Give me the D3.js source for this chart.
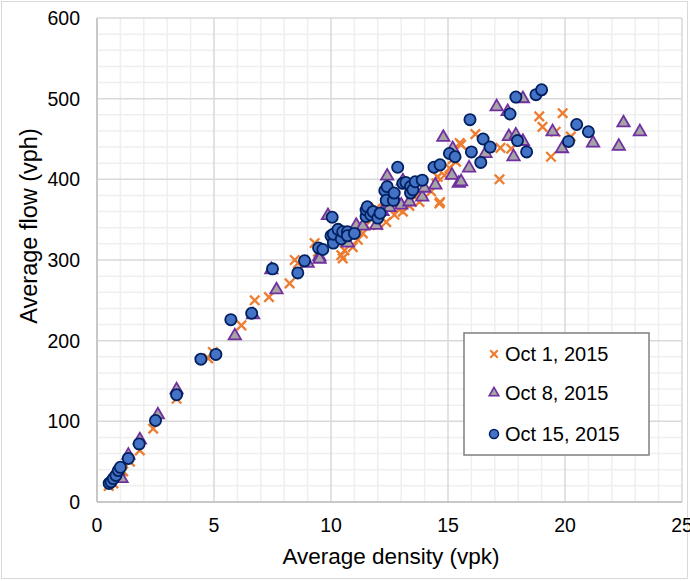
<!DOCTYPE html>
<html>
<head>
<meta charset="utf-8">
<script src="https://d3js.org/d3.v7.min.js"></script>
<style>
  body { margin: 0; background: #fff; }
  text { font-family: "Liberation Sans", Arial, sans-serif; fill: #000; }
</style>
</head>
<body>
<div id="chart"></div>
<script>
// series: [density (vpk), flow (vph)]
const seriesNames = ["Oct 1, 2015", "Oct 8, 2015", "Oct 15, 2015"];

const oct1 = [
  [0.5, 20], [0.7, 23], [1.12, 38], [1.41, 50], [1.83, 64], [2.4, 91], [3.4, 128],
  [4.75, 178], [4.95, 186], [6.17, 219], [6.74, 250], [7.35, 254], [8.23, 271],
  [8.45, 300], [8.59, 296], [9.3, 321], [9.44, 310], [10.44, 306], [10.5, 302],
  [10.58, 312], [10.93, 316], [11.15, 325], [11.36, 333], [11.5, 343], [11.93, 364],
  [12.0, 343], [12.36, 347], [12.71, 356], [12.9, 363], [13.07, 360], [13.35, 367],
  [13.64, 380], [13.78, 372], [14.28, 385], [14.5, 395], [14.56, 403], [14.63, 370],
  [14.66, 372], [14.85, 405], [15.06, 414], [15.2, 425], [15.34, 422], [15.5, 445],
  [15.56, 443], [16.17, 456], [17.2, 400], [17.24, 439], [17.7, 438], [18.9, 478],
  [19.04, 465], [19.4, 428], [19.6, 459], [19.9, 482], [20.25, 453]
];

const oct8 = [
  [0.7, 30], [0.8, 35], [0.9, 38], [1.05, 29], [1.34, 58], [1.83, 77], [2.6, 108],
  [3.4, 139], [5.89, 206], [6.67, 232], [7.45, 288], [7.67, 263], [9.0, 296],
  [9.5, 304], [9.51, 301], [9.87, 355], [10.5, 325], [10.72, 321], [11.08, 343],
  [11.36, 342], [11.93, 343], [12.2, 360], [12.4, 404], [12.5, 365], [12.7, 378],
  [13.0, 368], [13.07, 398], [13.35, 372], [13.9, 378], [13.99, 389], [14.46, 393],
  [14.8, 452], [15.17, 405], [15.2, 438], [15.46, 395], [15.56, 397], [15.9, 414],
  [16.6, 432], [17.08, 490], [17.55, 484], [17.6, 453], [17.8, 428], [17.9, 455],
  [18.2, 500], [18.2, 447], [19.47, 459], [19.87, 438], [21.2, 445], [22.3, 441],
  [22.5, 470], [23.2, 459]
];

const oct15 = [
  [0.52, 23], [0.6, 25], [0.7, 29], [0.81, 33], [0.91, 39], [1.0, 43], [1.34, 54],
  [1.8, 72], [2.5, 101], [3.4, 133], [4.44, 177], [5.08, 183], [5.72, 226],
  [6.61, 234], [7.5, 289], [8.58, 284], [8.87, 299], [9.47, 315], [9.65, 313],
  [10.0, 330], [10.05, 353], [10.1, 321], [10.1, 332], [10.3, 338], [10.44, 326],
  [10.5, 335], [10.7, 335], [10.7, 330], [11.0, 333], [11.5, 354], [11.5, 362],
  [11.55, 366], [11.7, 356], [11.8, 360], [12.0, 352], [12.1, 358], [12.3, 386],
  [12.36, 374], [12.4, 391], [12.67, 374], [12.7, 383], [12.85, 415], [13.07, 395],
  [13.2, 396], [13.4, 391], [13.4, 383], [13.5, 387], [13.6, 397], [13.9, 399],
  [14.4, 415], [14.66, 418], [15.06, 432], [15.3, 428], [15.94, 474], [16.0, 434],
  [16.4, 421], [16.5, 450], [16.8, 440], [17.65, 481], [17.9, 502], [17.97, 448],
  [18.36, 434], [18.76, 505], [19.0, 511], [20.15, 447], [20.5, 468], [21.0, 459]
];

const xTicks = [0, 5, 10, 15, 20, 25];
const yTicks = [0, 100, 200, 300, 400, 500, 600];

const W = 690, H = 581;
const mLeft = 97, mRight = 682, mTop = 18, mBottom = 502;

const svg = d3.select("#chart").append("svg")
  .attr("width", W).attr("height", H);

// outer chart border
svg.append("rect")
  .attr("x", 1.5).attr("y", 1.5).attr("width", W - 4).attr("height", H - 4)
  .attr("fill", "none").attr("stroke", "#d9d9d9");

const x = d3.scaleLinear().domain([0, 25]).range([mLeft, mRight]);
const y = d3.scaleLinear().domain([0, 600]).range([mBottom, mTop]);

// minor grid
svg.append("g").selectAll("line")
  .data(d3.range(0, 26, 1).filter(d => d % 5 !== 0))
  .join("line")
  .attr("x1", d => x(d)).attr("x2", d => x(d))
  .attr("y1", mTop).attr("y2", mBottom)
  .attr("stroke", "#efefef").attr("stroke-width", 1.5);
svg.append("g").selectAll("line")
  .data(d3.range(0, 601, 20).filter(d => d % 100 !== 0))
  .join("line")
  .attr("x1", mLeft).attr("x2", mRight)
  .attr("y1", d => y(d)).attr("y2", d => y(d))
  .attr("stroke", "#efefef").attr("stroke-width", 1.5);

// major grid
svg.append("g").selectAll("line")
  .data(xTicks)
  .join("line")
  .attr("x1", d => x(d)).attr("x2", d => x(d))
  .attr("y1", mTop).attr("y2", mBottom)
  .attr("stroke", "#d9d9d9").attr("stroke-width", 1.5);
svg.append("g").selectAll("line")
  .data(yTicks)
  .join("line")
  .attr("x1", mLeft).attr("x2", mRight)
  .attr("y1", d => y(d)).attr("y2", d => y(d))
  .attr("stroke", "#d9d9d9").attr("stroke-width", 1.5);

// axes lines
svg.append("line").attr("x1", mLeft).attr("x2", mLeft).attr("y1", mTop).attr("y2", mBottom)
  .attr("stroke", "#bfbfbf").attr("stroke-width", 1.5);
svg.append("line").attr("x1", mLeft).attr("x2", mRight).attr("y1", mBottom).attr("y2", mBottom)
  .attr("stroke", "#bfbfbf").attr("stroke-width", 1.5);

// tick labels
svg.append("g").selectAll("text")
  .data(xTicks)
  .join("text")
  .attr("x", d => x(d)).attr("y", mBottom + 30)
  .attr("text-anchor", "middle")
  .attr("font-size", 19.5)
  .text(d => d);
svg.append("g").selectAll("text")
  .data(yTicks)
  .join("text")
  .attr("x", mLeft - 17).attr("y", d => y(d) + 7)
  .attr("text-anchor", "end")
  .attr("font-size", 19.5)
  .text(d => d);

// axis titles
svg.append("text")
  .attr("x", 391).attr("y", 564)
  .attr("text-anchor", "middle").attr("font-size", 22.5)
  .text("Average density (vpk)");
svg.append("text")
  .attr("transform", "translate(37,226) rotate(-90)")
  .attr("text-anchor", "middle").attr("font-size", 23.5)
  .text("Average flow (vph)");

// markers
const xSym = d3.symbol().type(d3.symbolX).size(60);
const triSym = d3.symbol().type(d3.symbolTriangle).size(66);

svg.append("g").selectAll("path")
  .data(oct1)
  .join("path")
  .attr("transform", d => `translate(${x(d[0])},${y(d[1])})`)
  .attr("d", xSym)
  .attr("fill", "none").attr("stroke", "#ED7D31").attr("stroke-width", 2.3);

svg.append("g").selectAll("path")
  .data(oct8)
  .join("path")
  .attr("transform", d => `translate(${x(d[0])},${y(d[1])})`)
  .attr("d", triSym)
  .attr("fill", "#a5a5a5").attr("stroke", "#7030A0").attr("stroke-width", 1.8);

svg.append("g").selectAll("circle")
  .data(oct15)
  .join("circle")
  .attr("cx", d => x(d[0])).attr("cy", d => y(d[1]))
  .attr("r", 5.6)
  .attr("fill", "#4472C4").attr("stroke", "#002060").attr("stroke-width", 1.8);

// legend
const lg = svg.append("g");
lg.append("rect")
  .attr("x", 464).attr("y", 333).attr("width", 185).attr("height", 122)
  .attr("fill", "#fff").attr("stroke", "#7f7f7f").attr("stroke-width", 1.5);
const legY = [354, 393, 434];
seriesNames.forEach((name, i) => {
  const g = lg.append("g").attr("transform", `translate(494,${legY[i]})`);
  if (i === 0) {
    g.append("path").attr("d", d3.symbol().type(d3.symbolX).size(38))
      .attr("fill", "none").attr("stroke", "#ED7D31").attr("stroke-width", 2.2);
  } else if (i === 1) {
    g.append("path").attr("d", d3.symbol().type(d3.symbolTriangle).size(40))
      .attr("fill", "#a5a5a5").attr("stroke", "#7030A0").attr("stroke-width", 1.6);
  } else {
    g.append("circle").attr("r", 4.5)
      .attr("fill", "#4472C4").attr("stroke", "#002060").attr("stroke-width", 1.5);
  }
  lg.append("text")
    .attr("x", 505).attr("y", legY[i] + 7)
    .attr("font-size", 20)
    .text(name);
});
</script>
</body>
</html>
